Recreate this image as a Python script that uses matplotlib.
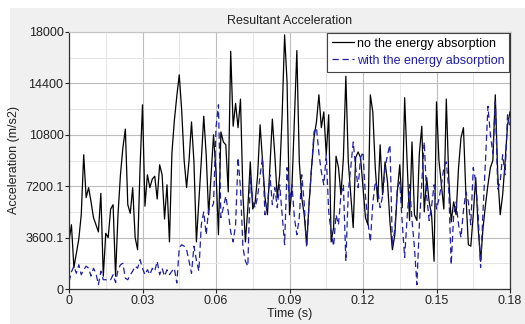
import numpy as np
import matplotlib
matplotlib.use('Agg')
import matplotlib.pyplot as plt
from matplotlib.patches import Rectangle
from matplotlib.ticker import MultipleLocator

plt.rcParams['font.family'] = ['Liberation Sans', 'DejaVu Sans']

# time axis, one sample per millisecond (0 .. 180 ms)
time_ms = np.arange(0, 181)

# resultant acceleration without energy absorption (m/s2)
acc_no_absorb = [
    3340, 4500, 1500, 2500, 3500, 5200, 9400, 6400, 7100, 6100,
    5000, 4500, 4000, 6700, 900, 3900, 3600, 5600, 5900, 900,
    5200, 8000, 9900, 11200, 5900, 5300, 7100, 3600, 2750, 8500,
    12900, 5800, 8000, 7100, 7700, 7900, 6300, 8700, 8000, 4900,
    7300, 3300, 9500, 11800, 13500, 15000, 12500, 9000, 7100, 9000,
    11700, 8900, 3300, 6100, 9000, 12100, 9400, 5200, 8000, 10800,
    8200, 3800, 11000, 10300, 10100, 6800, 16650, 11400, 13000, 11300,
    13300, 6600, 3300, 5700, 8900, 5600, 6100, 8000, 11500, 8900,
    6400, 5200, 8500, 11900, 9400, 6400, 8000, 12200, 17800, 14500,
    5200, 7100, 12000, 16700, 8900, 6400, 5200, 3100, 6000, 8500,
    10600, 11700, 13600, 11300, 12400, 9400, 12200, 3300, 4300, 9300,
    8500, 6600, 9200, 14900, 8900, 6600, 4300, 9200, 9600, 9200,
    7100, 5000, 4500, 13600, 12400, 8500, 6100, 10100, 6600, 8900,
    7500, 4700, 2750, 3800, 6800, 8700, 5700, 13400, 8900, 4800,
    10300, 5200, 4800, 9500, 11400, 5400, 7800, 6100, 5200, 1940,
    13100, 9000, 7300, 5600, 13300, 7800, 4700, 6100, 5200, 8500,
    10600, 11300, 6600, 3100, 3000, 5200, 7800, 4300, 1940, 4300,
    5900, 7300, 8500, 9000, 13600, 8000, 5200, 6600, 8900, 11500,
    12400,
]

# resultant acceleration with energy absorption (m/s2)
acc_absorb = [
    500, 1200, 1600, 1100, 1700, 1000, 1350, 1600, 1450, 900,
    1450, 1100, 300, 1250, 650, 650, 600, 650, 1000, 450,
    1350, 1700, 1800, 750, 650, 1000, 1250, 1600, 1450, 2050,
    1450, 1000, 1350, 1000, 1450, 1250, 1950, 1000, 1450, 900,
    1350, 1000, 1250, 1450, 420, 2900, 3100, 3000, 2750, 1950,
    1100, 3000, 2000, 1250, 4500, 5400, 3800, 5600, 5600, 6000,
    11300, 12900, 5000, 5700, 6500, 5400, 4000, 3300, 4500, 9200,
    7000, 2900, 1950, 1600, 7800, 6100, 5700, 6500, 8000, 9200,
    5200, 5900, 8000, 5900, 7100, 5700, 7300, 5200, 3100, 8500,
    6100, 7300, 5000, 3800, 5000, 8000, 6000, 2900, 6000, 8500,
    11000, 11300, 9500, 8200, 7300, 9400, 5400, 4000, 3000, 5200,
    4500, 6600, 7300, 1950, 6800, 8500, 10300, 8500, 7100, 9200,
    9600, 6500, 4700, 3300, 6000, 7500, 7000, 5700, 6500, 8500,
    9400, 10100, 3000, 4200, 7000, 7500, 4700, 2200, 5000, 7300,
    4800, 2900, 300, 4500, 7500, 10300, 6500, 4800, 5800, 7300,
    5600, 6300, 7300, 8500, 8900, 7000, 1700, 5200, 6100, 4500,
    3600, 5500, 6800, 6100, 4500, 8500, 7500, 5200, 1500, 5500,
    9000, 12800, 10800, 9500, 13100, 7000, 7500, 9400, 8000, 12200,
    11300,
]

y_ticks = [0, 3600, 7200, 10800, 14400, 18000]
y_tick_labels = ['0', '3600.1', '7200.1', '10800', '14400', '18000']
x_ticks = [0, 0.03, 0.06, 0.09, 0.12, 0.15, 0.18]
x_tick_labels = ['0', '0.03', '0.06', '0.09', '0.12', '0.15', '0.18']

W, H = 525, 324
fig = plt.figure(figsize=(W / 100, H / 100), dpi=100, facecolor='white')
# grey panel behind the axes
fig.patches.append(Rectangle((10 / W, 0), 1, 1 - 8 / H, transform=fig.transFigure,
                             facecolor='#f0f0f0', edgecolor='none', zorder=-10))

ax = fig.add_axes([69 / W, 1 - 289 / H, (510 - 69) / W, (289 - 32) / H])
ax.set_facecolor('white')

t = time_ms / 1000.0
ax.plot(t, acc_no_absorb, color='black', lw=0.9, label='no the energy absorption')
ax.plot(t, acc_absorb, color='#1f1fa0', lw=0.9, dashes=(5, 3),
        label='with the energy absorption')

ax.set_xlim(0, 0.18)
ax.set_ylim(0, 18000)
ax.set_xticks(x_ticks)
ax.set_xticklabels(x_tick_labels)
ax.set_yticks(y_ticks)
ax.set_yticklabels(y_tick_labels)
ax.xaxis.set_minor_locator(MultipleLocator(0.015))
ax.yaxis.set_minor_locator(MultipleLocator(1800))
ax.grid(which='major', color='#bdbdbd', lw=0.8)
ax.grid(which='minor', color='#e6e6e6', lw=0.7)
ax.set_axisbelow(True)
ax.tick_params(which='major', direction='out', length=3, width=0.8,
               labelsize=9, pad=1, colors='#222222')
ax.tick_params(which='minor', length=0)

for side in ['left', 'bottom', 'right']:
    ax.spines[side].set_color('#333333')
    ax.spines[side].set_linewidth(0.9)
ax.spines['top'].set_color('#c4c4c4')

ax.set_title('Resultant Acceleration', fontsize=9, pad=6, color='#222222')
ax.set_xlabel('Time (s)', fontsize=9, labelpad=1, color='#222222')
ax.set_ylabel('Acceleration (m/s2)', fontsize=9, labelpad=4, color='#222222')

leg = ax.legend(loc='upper right', fontsize=9, frameon=True, fancybox=False,
                handlelength=1.8, handletextpad=0.2, borderpad=0.4,
                labelspacing=0.4, borderaxespad=0.05)
leg.get_frame().set_edgecolor('#444444')
leg.get_frame().set_linewidth(0.8)
leg.get_frame().set_alpha(1)
for txt, line in zip(leg.get_texts(), leg.get_lines()):
    txt.set_color(line.get_color())

fig.savefig('out.png', dpi=100, facecolor=fig.get_facecolor())
